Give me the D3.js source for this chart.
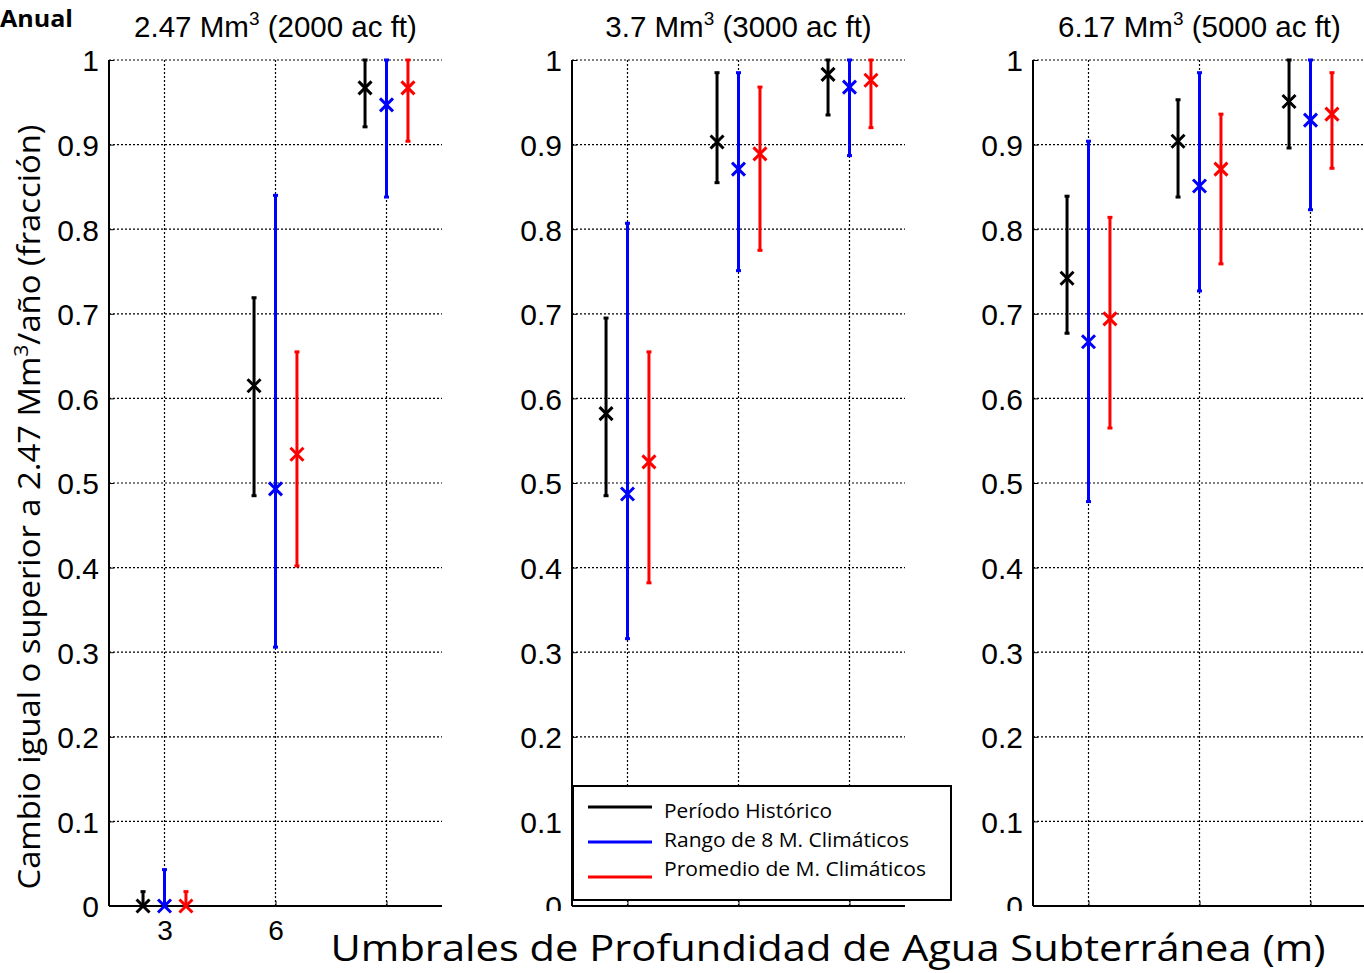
<!DOCTYPE html>
<html lang="es">
<head>
<meta charset="UTF-8">
<title>Anual</title>
<script src="https://cdn.jsdelivr.net/npm/d3@7"></script>
<style>
	body { margin: 0; background: #fff; }
	svg { display: block; }
</style>
</head>
<body>
<div id="chart"></div>
<script>
// volúmenes de cada panel
var volumes = ["2.47", "3.7", "6.17"];
var acFeet = ["2000", "3000", "5000"];
// umbrales de profundidad (m)
var thresholds = [3, 6, 9];
var xTickLabels = [3, 6];
var yTicks = [0, 0.1, 0.2, 0.3, 0.4, 0.5, 0.6, 0.7, 0.8, 0.9, 1];

var seriesNames = ["Período Histórico", "Rango de 8 M. Climáticos", "Promedio de M. Climáticos"];
var seriesColors = ["#000000", "#0000ff", "#ff0000"];
var seriesOffset = [-0.58, 0, 0.58];

// [panel][umbral]
var histMid  = [[0.0, 0.615, 0.967], [0.582, 0.903, 0.983], [0.742, 0.904, 0.951]];
var histLow  = [[0.0, 0.485, 0.921], [0.485, 0.855, 0.935], [0.677, 0.838, 0.896]];
var histHigh = [[0.017, 0.719, 1.0], [0.695, 0.985, 1.0], [0.839, 0.953, 1.0]];

var rangeMid  = [[0.0, 0.493, 0.947], [0.487, 0.871, 0.968], [0.667, 0.851, 0.929]];
var rangeLow  = [[0.0, 0.306, 0.838], [0.316, 0.751, 0.887], [0.478, 0.727, 0.823]];
var rangeHigh = [[0.043, 0.840, 1.0], [0.807, 0.985, 1.0], [0.904, 0.985, 1.0]];

var avgMid  = [[0.0, 0.534, 0.967], [0.525, 0.889, 0.976], [0.694, 0.871, 0.936]];
var avgLow  = [[0.0, 0.402, 0.904], [0.382, 0.775, 0.920], [0.565, 0.759, 0.872]];
var avgHigh = [[0.017, 0.655, 1.0], [0.655, 0.968, 1.0], [0.814, 0.936, 0.985]];

var mids = [histMid, rangeMid, avgMid];
var lows = [histLow, rangeLow, avgLow];
var highs = [histHigh, rangeHigh, avgHigh];

var W = 1364, H = 973;
var panelLeft = [109, 572, 1033];
var panelW = 333;
var top0 = 60, bottom0 = 906;

var svg = d3.select("#chart").append("svg")
	.attr("width", W).attr("height", H);

var y = d3.scaleLinear().domain([0, 1]).range([bottom0, top0]);

volumes.forEach(function(vol, p){
	var x = d3.scaleLinear().domain([1.5, 10.5]).range([panelLeft[p], panelLeft[p] + panelW]);
	var g = svg.append("g");

	// cuadrícula punteada
	g.selectAll("line.hg").data(yTicks.filter(function(t){ return t > 0; })).enter()
		.append("line")
		.attr("x1", x(1.5)).attr("x2", x(10.5))
		.attr("y1", function(d){ return y(d); }).attr("y2", function(d){ return y(d); })
		.attr("stroke", "#000").attr("stroke-width", 1.2).attr("stroke-dasharray", "2,2");
	g.selectAll("line.vg").data(thresholds).enter()
		.append("line")
		.attr("x1", function(d){ return x(d); }).attr("x2", function(d){ return x(d); })
		.attr("y1", y(0)).attr("y2", y(1))
		.attr("stroke", "#000").attr("stroke-width", 1.2).attr("stroke-dasharray", "2,2");

	// ejes
	var yAxis = d3.axisLeft(y).tickValues(yTicks).tickSize(-5).tickPadding(10)
		.tickFormat(function(d){ return d3.format("")(+d.toFixed(1)); });
	var ya = g.append("g").attr("transform", "translate(" + panelLeft[p] + ",0)").call(yAxis);
	ya.select(".domain").attr("d", "M0," + y(0) + "V" + y(1)).attr("stroke-width", 2);
	ya.selectAll("text").attr("font-family", "Liberation Sans, Arial, sans-serif")
		.attr("font-size", 30).attr("fill", "#000").attr("dy", "0.36em");

	var xAxis = d3.axisBottom(x).tickValues(thresholds).tickSize(-5).tickPadding(14)
		.tickFormat(function(d){ return (p === 0 && xTickLabels.indexOf(d) >= 0) ? d : ""; });
	var xa = g.append("g").attr("transform", "translate(0," + bottom0 + ")").call(xAxis);
	xa.select(".domain").attr("d", "M" + x(1.5) + ",0H" + x(10.5)).attr("stroke-width", 2);
	xa.selectAll("text").attr("font-family", "Liberation Sans, Arial, sans-serif")
		.attr("font-size", 28).attr("fill", "#000");

	// título del panel
	var t = svg.append("text")
		.attr("x", panelLeft[p] + panelW / 2).attr("y", 37)
		.attr("text-anchor", "middle")
		.attr("font-family", "Liberation Sans, Arial, sans-serif")
		.attr("font-size", 29.5);
	t.append("tspan").text(vol + " Mm");
	t.append("tspan").attr("dy", -12).attr("font-size", 19).text("3");
	t.append("tspan").attr("dy", 12).text(" (" + acFeet[p] + " ac ft)");

	// barras de error y marcadores
	seriesNames.forEach(function(name, s){
		var pts = thresholds.map(function(th, i){
			return {x: th + seriesOffset[s], mid: mids[s][p][i], lo: lows[s][p][i], hi: highs[s][p][i]};
		});
		var sg = g.append("g").attr("stroke", seriesColors[s]).attr("fill", "none");
		sg.selectAll("line.bar").data(pts).enter().append("line")
			.attr("x1", function(d){ return x(d.x); }).attr("x2", function(d){ return x(d.x); })
			.attr("y1", function(d){ return y(d.lo); }).attr("y2", function(d){ return y(d.hi); })
			.attr("stroke-width", 3);
		[["lo"], ["hi"]].forEach(function(k){
			sg.selectAll("line.cap" + k[0]).data(pts).enter().append("line")
				.attr("x1", function(d){ return x(d.x) - 2.5; }).attr("x2", function(d){ return x(d.x) + 2.5; })
				.attr("y1", function(d){ return y(d[k[0]]); }).attr("y2", function(d){ return y(d[k[0]]); })
				.attr("stroke-width", 3);
		});
		sg.selectAll("path.mk").data(pts).enter().append("path")
			.attr("d", function(d){
				var cx = x(d.x), cy = y(d.mid), r = 6.5;
				return "M" + (cx - r) + "," + (cy - r) + "L" + (cx + r) + "," + (cy + r) +
					"M" + (cx - r) + "," + (cy + r) + "L" + (cx + r) + "," + (cy - r);
			})
			.attr("stroke-width", 3);
	});
});

// el resto de los ejes inferiores queda tapado
svg.append("rect").attr("x", 520).attr("y", 911).attr("width", W - 520).attr("height", 18).attr("fill", "#fff");

// leyenda
var lg = svg.append("g").attr("transform", "translate(573,786)");
lg.append("rect").attr("width", 378).attr("height", 114)
	.attr("fill", "#fff").attr("stroke", "#000").attr("stroke-width", 2);
seriesNames.forEach(function(name, s){
	var ly = 21 + s * 35;
	lg.append("line").attr("x1", 15).attr("x2", 79).attr("y1", ly).attr("y2", ly)
		.attr("stroke", seriesColors[s]).attr("stroke-width", 3);
	lg.append("text").attr("x", 91).attr("y", 32 + s * 29)
		.attr("font-family", "Open Sans, Noto Sans, sans-serif").attr("font-size", 20.5)
		.attr("textLength", [168, 245, 262][s]).attr("lengthAdjust", "spacingAndGlyphs")
		.text(name);
});

// textos generales
svg.append("text").attr("x", 0).attr("y", 27)
	.attr("font-family", "Open Sans, Noto Sans, sans-serif").attr("font-weight", "bold")
	.attr("font-size", 24).attr("textLength", 73).attr("lengthAdjust", "spacingAndGlyphs")
	.text("Anual");

var yl = svg.append("text")
	.attr("transform", "translate(40,507) rotate(-90)")
	.attr("text-anchor", "middle")
	.attr("font-family", "Open Sans, Noto Sans, sans-serif").attr("font-size", 31)
	.attr("textLength", 765).attr("lengthAdjust", "spacingAndGlyphs");
yl.append("tspan").text("Cambio igual o superior a 2.47 Mm");
yl.append("tspan").attr("dy", -12).attr("font-size", 20).text("3");
yl.append("tspan").attr("dy", 12).text("/año (fracción)");

svg.append("text").attr("x", 828).attr("y", 961)
	.attr("text-anchor", "middle")
	.attr("font-family", "Open Sans, Noto Sans, sans-serif").attr("font-size", 37)
	.attr("textLength", 995).attr("lengthAdjust", "spacingAndGlyphs")
	.text("Umbrales de Profundidad de Agua Subterránea (m)");
</script>
</body>
</html>
